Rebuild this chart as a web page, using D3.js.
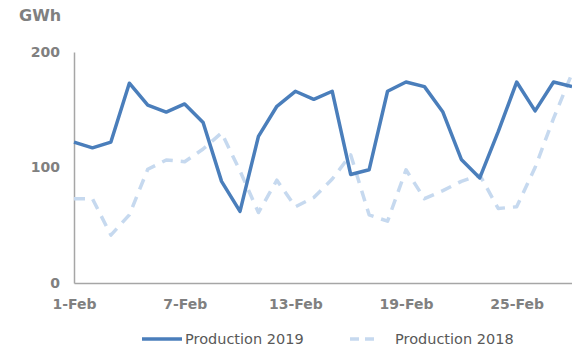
<!DOCTYPE html>
<html>
<head>
<meta charset="utf-8">
<script src="https://cdn.jsdelivr.net/npm/d3@7"></script>
<style>
  html, body { margin: 0; padding: 0; background: #fff; }
  svg { display: block; }
</style>
</head>
<body>
<svg id="chart" width="572" height="347"></svg>
<script>
// Daily production, February
const days = d3.range(1, 29).map(d => d + "-Feb");
const production2019 = [122, 117, 122, 173, 154, 148, 155, 139, 88, 62, 127, 153, 166, 159, 166, 94,
                        98, 166, 174, 170, 148, 107, 91, 131, 174, 149, 174, 170];
const production2018 = [73, 73, 41.5, 59, 98.5, 106.5, 105, 116, 130, 97, 61, 89, 66, 74, 90, 111,
                        59, 53.5, 98, 73, 80, 88, 93.5, 64.5, 66, 100, 142.5, 181.5];
const xTickLabels = ["1-Feb", "7-Feb", "13-Feb", "19-Feb", "25-Feb"];
const yTicks = [0, 100, 200];
const seriesNames = ["Production 2019", "Production 2018"];

const svg = d3.select("#chart");
const plot = { left: 74, right: 572, top: 52, bottom: 283 };

const x = d3.scalePoint().domain(days).range([plot.left, plot.right]);
const y = d3.scaleLinear().domain([0, 200]).range([plot.bottom, plot.top]);

const labelFont = "DejaVu Sans, Verdana, sans-serif";

// axes
const yAxis = svg.append("g")
  .attr("transform", `translate(${plot.left},0)`)
  .call(d3.axisLeft(y).tickValues(yTicks).tickSize(0).tickPadding(14));
const xAxis = svg.append("g")
  .attr("transform", `translate(0,${plot.bottom})`)
  .call(d3.axisBottom(x).tickValues(xTickLabels).tickSize(0).tickPadding(16));

[yAxis, xAxis].forEach(g => {
  g.select(".domain").attr("stroke", "#a6a6a6").attr("stroke-width", 1.5);
  g.selectAll("text")
    .attr("fill", "#808080")
    .style("font-family", labelFont)
    .style("font-weight", "bold")
    .style("font-size", "14px");
});

// unit label
svg.append("text")
  .attr("x", 19).attr("y", 21)
  .attr("fill", "#808080")
  .style("font-family", labelFont)
  .style("font-weight", "bold")
  .style("font-size", "16px")
  .text("GWh");

const line = d3.line().x((d, i) => x(days[i])).y(d => y(d));

svg.append("path")
  .datum(production2018)
  .attr("fill", "none")
  .attr("stroke", "#c6d9ef")
  .attr("stroke-width", 3.5)
  .attr("stroke-dasharray", "11,8")
  .attr("stroke-linejoin", "round")
  .attr("d", line);

svg.append("path")
  .datum(production2019)
  .attr("fill", "none")
  .attr("stroke", "#4a7ebb")
  .attr("stroke-width", 3.5)
  .attr("stroke-linejoin", "round")
  .attr("d", line);

// legend
const legendY = 339;
const legend = svg.append("g");
legend.append("line")
  .attr("x1", 142).attr("x2", 182).attr("y1", legendY).attr("y2", legendY)
  .attr("stroke", "#4a7ebb").attr("stroke-width", 3.5);
legend.append("text")
  .attr("x", 185).attr("y", legendY + 5)
  .attr("fill", "#595959")
  .style("font-family", labelFont)
  .style("font-size", "14.5px")
  .text(seriesNames[0]);
legend.append("line")
  .attr("x1", 350).attr("x2", 374).attr("y1", legendY).attr("y2", legendY)
  .attr("stroke", "#c6d9ef").attr("stroke-width", 3.5)
  .attr("stroke-dasharray", "9,6");
legend.append("text")
  .attr("x", 395).attr("y", legendY + 5)
  .attr("fill", "#595959")
  .style("font-family", labelFont)
  .style("font-size", "14.5px")
  .text(seriesNames[1]);
</script>
</body>
</html>
